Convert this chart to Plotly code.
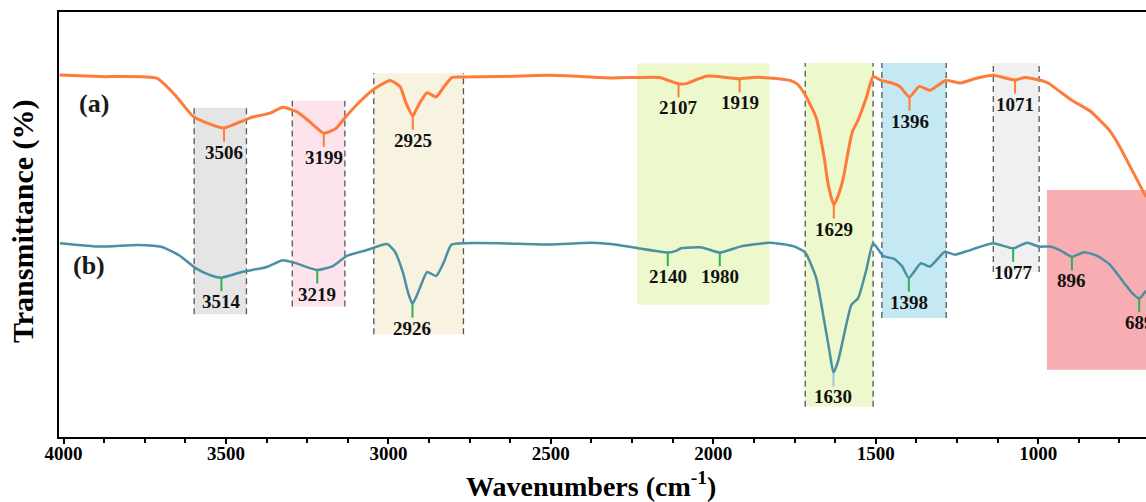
import numpy as np
import plotly.graph_objects as go

# FTIR spectrum (a): wavenumber (cm-1) and transmittance (offset, a.u.)
wn_a = [4012, 3888, 3712, 3657, 3602, 3549, 3506, 3448, 3426, 3365, 3325, 3281, 3241,
        3199, 3163, 3132, 3092, 3049, 2995, 2964, 2946, 2925, 2918, 2902, 2881, 2853,
        2829, 2804, 2770, 2656, 2502, 2315, 2235, 2164, 2142, 2107, 2080, 2055, 2021,
        1960, 1919, 1880, 1828, 1764, 1742, 1717, 1683, 1659, 1646, 1629, 1615, 1599,
        1584, 1572, 1554, 1529, 1508, 1483, 1450, 1425, 1396, 1366, 1332, 1285, 1239,
        1190, 1138, 1071, 1040, 997, 969, 932, 898, 840, 781, 748, 711, 668]
t_a = [85.2, 84.8, 84.4, 80.5, 75.5, 73.6, 72.7, 74.4, 75.1, 76.2, 77.6, 76.5, 74.1,
       71.5, 72.5, 75.3, 78.6, 81.6, 83.9, 82.4, 78.6, 75.5, 76.5, 78.8, 81.0, 80.0,
       82.4, 84.6, 84.7, 84.8, 85.1, 84.5, 84.6, 84.6, 84.0, 83.1, 83.2, 84.0, 84.9,
       84.6, 84.3, 84.6, 84.5, 83.9, 83.1, 80.5, 75.1, 65.9, 59.3, 54.6, 56.9, 61.2,
       67.5, 71.8, 74.6, 79.8, 84.8, 83.9, 83.3, 82.4, 80.0, 82.5, 81.6, 83.9, 83.3,
       84.4, 85.1, 84.0, 84.6, 84.0, 83.3, 81.2, 79.3, 76.7, 72.2, 68.2, 62.8, 56.5]

# FTIR spectrum (b)
wn_b = [4011, 3888, 3771, 3697, 3641, 3595, 3549, 3514, 3448, 3374, 3325, 3281, 3219,
        3171, 3128, 3066, 3004, 2980, 2955, 2940, 2926, 2915, 2902, 2881, 2853, 2829,
        2807, 2770, 2656, 2502, 2373, 2293, 2231, 2140, 2115, 2099, 2035, 1980, 1917,
        1828, 1754, 1717, 1683, 1659, 1643, 1630, 1615, 1599, 1575, 1554, 1529, 1508,
        1477, 1443, 1419, 1398, 1361, 1333, 1287, 1256, 1216, 1139, 1077, 1034, 997,
        963, 929, 896, 858, 818, 781, 735, 711, 689, 668]
t_b = [45.6, 44.8, 45.2, 44.7, 42.6, 39.8, 38.1, 37.5, 38.9, 40.0, 41.6, 40.8, 39.3,
       40.2, 42.6, 44.0, 45.4, 43.6, 38.6, 34.1, 31.3, 32.9, 35.3, 38.8, 37.9, 41.2,
       45.2, 45.6, 45.6, 45.3, 45.7, 45.2, 44.4, 43.4, 43.8, 44.4, 44.6, 43.4, 44.8,
       45.7, 44.9, 43.4, 37.4, 27.5, 20.5, 15.1, 18.1, 23.5, 31.1, 32.7, 39.3, 45.6,
       42.6, 41.9, 40.2, 37.4, 40.9, 40.1, 43.6, 42.9, 43.8, 45.6, 44.4, 45.7, 44.8,
       44.8, 43.8, 42.4, 43.5, 42.6, 40.7, 36.2, 33.9, 32.6, 34.4]

# labelled absorption bands
peaks_a = [3506, 3199, 2925, 2107, 1919, 1629, 1396, 1071]
peaks_b = [3514, 3219, 2926, 2140, 1980, 1630, 1398, 1077, 896, 689]

# highlighted spectral regions
band_hi = [3598, 3296, 3045, 2235, 1717, 1481, 1138, 973]
band_lo = [3437, 3134, 2769, 1827, 1508, 1283, 997, 600]
band_top = [77.5, 79.1, 85.6, 87.9, 88.0, 88.0, 88.0, 58.1]
band_bottom = [28.9, 30.7, 24.2, 31.1, 7.1, 28.0, 38.8, 15.8]
band_fill = ["#e5e5e5", "#fde4ec", "#f8f2e1", "#eef8cd", "#eef8cd", "#c5e9f3",
             "#f0f0f0", "#f8adb2"]
band_dashed = [True, True, True, False, True, True, True, False]

ORANGE = "#ff7b3a"
TEAL = "#4a8fa2"
GREEN = "#2db34a"
SERIF = "Liberation Serif, Times New Roman, serif"

fig = go.Figure()

shapes = []
for hi, lo, top, bot, fill, dashed in zip(band_hi, band_lo, band_top, band_bottom,
                                           band_fill, band_dashed):
    shapes.append(dict(type="rect", xref="x", yref="y", x0=hi, x1=lo, y0=bot, y1=top,
                       fillcolor=fill, line=dict(width=0), layer="below"))
    if dashed:
        for xv in (hi, lo):
            shapes.append(dict(type="line", xref="x", yref="y", x0=xv, x1=xv,
                               y0=bot, y1=top, layer="below",
                               line=dict(color="#555555", width=1.3, dash="6px,4px")))

fig.add_trace(go.Scatter(x=wn_a, y=t_a, mode="lines", showlegend=False,
                         line=dict(color=ORANGE, width=3, shape="spline", smoothing=0.5)))
fig.add_trace(go.Scatter(x=wn_b, y=t_b, mode="lines", showlegend=False,
                         line=dict(color=TEAL, width=2.5, shape="spline", smoothing=0.5)))

TICK = 3.2  # length of peak marker in transmittance units
annotations = []


def mark_peaks(peaks, wn, t, tick_colors):
    wn_r = np.array(wn[::-1], dtype=float)
    t_r = np.array(t[::-1], dtype=float)
    for p, c in zip(peaks, tick_colors):
        y0 = float(np.interp(p, wn_r, t_r))
        y1 = y0 - TICK
        shapes.append(dict(type="line", xref="x", yref="y", x0=p, x1=p, y0=y0, y1=y1,
                           line=dict(color=c, width=2)))
        annotations.append(dict(x=p, y=y1, xref="x", yref="y", text=str(p),
                                showarrow=False, yanchor="top", xanchor="center",
                                yshift=2,
                                font=dict(family=SERIF, size=19, color="#111111",
                                          weight="bold")))


mark_peaks(peaks_a, wn_a, t_a, [ORANGE] * len(peaks_a))
mark_peaks(peaks_b, wn_b, t_b,
           [("#9fc5d6" if p == 1630 else GREEN) for p in peaks_b])

# curve labels
annotations.append(dict(x=(94 - 59) / 1087, y=(437 - 103) / 425, xref="paper",
                        yref="paper", text="(a)", showarrow=False, xanchor="center",
                        yanchor="middle",
                        font=dict(family=SERIF, size=26, color="#1a1a1a", weight="bold")))
annotations.append(dict(x=(89 - 59) / 1087, y=(437 - 265) / 425, xref="paper",
                        yref="paper", text="(b)", showarrow=False, xanchor="center",
                        yanchor="middle",
                        font=dict(family=SERIF, size=26, color="#1a1a1a", weight="bold")))

# axis titles
annotations.append(dict(x=(591 - 59) / 1087, y=(437 - 484) / 425, xref="paper",
                        yref="paper", text="Wavenumbers (cm<sup>-1</sup>)",
                        showarrow=False, xanchor="center", yanchor="middle",
                        font=dict(family=SERIF, size=28, color="black", weight="bold")))
annotations.append(dict(x=(23 - 59) / 1087, y=(437 - 221) / 425, xref="paper",
                        yref="paper", text="Transmittance (%)", textangle=-90,
                        showarrow=False, xanchor="center", yanchor="middle",
                        font=dict(family=SERIF, size=30, color="black", weight="bold")))

fig.update_layout(
    width=1146, height=502,
    margin=dict(l=59, r=0, t=12, b=65),
    paper_bgcolor="white", plot_bgcolor="white",
    shapes=shapes, annotations=annotations,
    xaxis=dict(range=[4014, 668], showline=True, linecolor="black", linewidth=2,
               mirror=True, ticks="outside", ticklen=5, tickwidth=1.5,
               tickcolor="black", tickvals=[4000, 3500, 3000, 2500, 2000, 1500, 1000],
               ticktext=["4000", "3500", "3000", "2500", "2000", "1500", "1000"],
               ticklabelstandoff=-7,
               minor=dict(ticks="outside", dtick=125, tick0=0, ticklen=4,
                          tickwidth=1.5, tickcolor="black"),
               showgrid=False, zeroline=False,
               tickfont=dict(family=SERIF, size=19, color="black", weight="bold")),
    yaxis=dict(range=[0, 100], showline=True, linecolor="black", linewidth=2,
               showticklabels=False, ticks="", showgrid=False, zeroline=False),
)

fig.write_html("out.html")
